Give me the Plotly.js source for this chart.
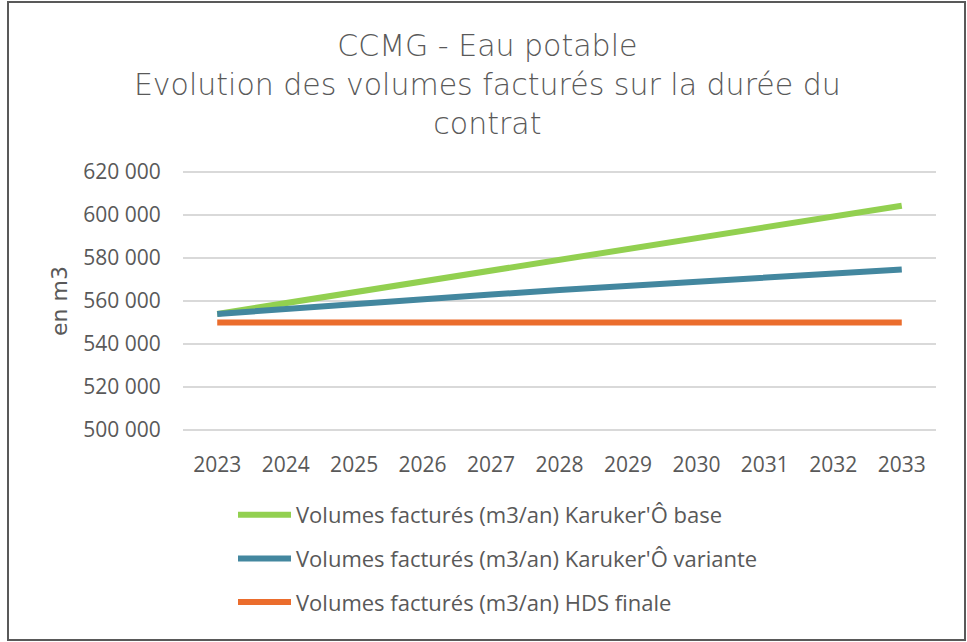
<!DOCTYPE html>
<html>
<head>
<meta charset="utf-8">
<script src="https://cdn.plot.ly/plotly-3.0.1.min.js"></script>
<style>
  html, body { margin: 0; padding: 0; background: #ffffff; }
  #wrap { position: relative; width: 967px; height: 642px; }
  #chart { position: absolute; left: 0; top: 0; width: 967px; height: 642px; }
  #frame { position: absolute; left: 7px; top: 1px; width: 959px; height: 640px;
           border: 2px solid #595959; box-sizing: border-box; pointer-events: none; }
</style>
</head>
<body>
<div id="wrap">
  <div id="chart"></div>
  <div id="frame"></div>
</div>
<script>
const years = ['2023','2024','2025','2026','2027','2028','2029','2030','2031','2032','2033'];
const karukerBase = [554000, 559000, 564000, 569000, 574100, 579200, 584200, 589200, 594200, 599200, 604300];
const karukerVariante = [554000, 556400, 558700, 560900, 563000, 565100, 567100, 569000, 570900, 572800, 574700];
const hdsFinale = [550000, 550000, 550000, 550000, 550000, 550000, 550000, 550000, 550000, 550000, 550000];
const seriesNames = [
  "Volumes facturés (m3/an) Karuker'Ô base",
  "Volumes facturés (m3/an) Karuker'Ô variante",
  "Volumes facturés (m3/an) HDS finale"
];
const yTicks = [500000, 520000, 540000, 560000, 580000, 600000, 620000];
const yTickText = ['500 000','520 000','540 000','560 000','580 000','600 000','620 000'];

const colors = ['#92D050', '#43879F', '#EB6D2D'];
const seriesData = [karukerBase, karukerVariante, hdsFinale];

const traces = seriesData.map((d, i) => ({
  type: 'scatter',
  mode: 'lines',
  x: years,
  y: d,
  name: seriesNames[i],
  legendgroup: 'g' + i,
  line: { color: colors[i], width: 6, shape: 'linear' },
  hoverinfo: 'skip'
}));

const layout = {
  width: 967,
  height: 642,
  paper_bgcolor: '#ffffff',
  plot_bgcolor: '#ffffff',
  margin: { l: 183, r: 31, t: 168, b: 208, pad: 0, autoexpand: false },
  title: {
    text: 'CCMG - Eau potable<br>Evolution des volumes facturés sur la durée du<br>contrat',
    font: { family: 'DejaVu Sans', size: 30, color: '#595959', weight: 200 },
    xref: 'container', x: 0.504, xanchor: 'center',
    yref: 'container', y: 0.912, yanchor: 'top'
  },
  xaxis: {
    type: 'category',
    range: [-0.5, 10.5],
    showgrid: false,
    zeroline: false,
    showline: false,
    ticks: 'outside',
    ticklen: 12,
    tickcolor: 'rgba(0,0,0,0)',
    tickangle: 0,
    tickfont: { family: 'Open Sans', size: 21, color: '#595959' },
    fixedrange: true
  },
  yaxis: {
    range: [498140, 621860],
    tickvals: yTicks,
    ticktext: yTickText,
    showgrid: true,
    gridcolor: '#D9D9D9',
    gridwidth: 1.5,
    zeroline: false,
    showline: false,
    ticks: 'outside',
    ticklen: 17,
    tickcolor: 'rgba(0,0,0,0)',
    tickfont: { family: 'Open Sans', size: 21, color: '#595959' },
    title: {
      text: 'en m3',
      font: { family: 'DejaVu Sans', size: 22, color: '#595959' },
      standoff: 9
    },
    fixedrange: true
  },
  showlegend: true,
  legend: {
    orientation: 'v',
    traceorder: 'grouped',
    tracegroupgap: 12,
    itemwidth: 53,
    x: (233 - 183) / 753, xref: 'paper', xanchor: 'left',
    y: (434 - 494) / 266, yref: 'paper', yanchor: 'top',
    font: { family: 'Open Sans', size: 22, color: '#595959' },
    bgcolor: 'rgba(0,0,0,0)'
  }
};

Plotly.newPlot('chart', traces, layout, { displayModeBar: false, staticPlot: true });
</script>
</body>
</html>
